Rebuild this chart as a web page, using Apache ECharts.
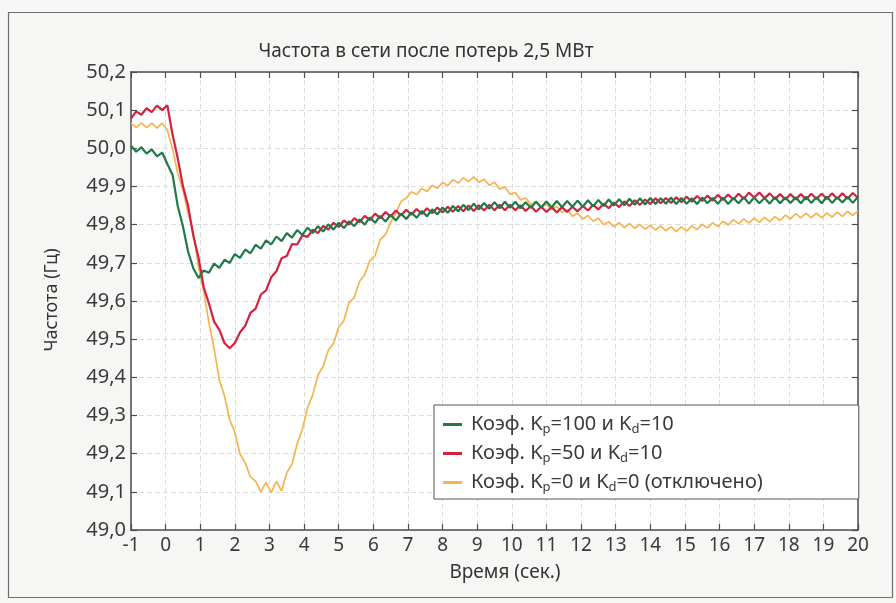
<!DOCTYPE html>
<html>
<head>
<meta charset="utf-8">
<script src="https://cdn.jsdelivr.net/npm/echarts@6/dist/echarts.min.js"></script>
<style>html,body{margin:0;padding:0;background:#f6f6f4;}#c{width:896px;height:603px;}</style>
</head>
<body>
<div id="c"></div>
<script>
// Sampling grid of the recorded curves (seconds)
const tStart = -1, tStep = 0.15;

// Kp=100, Kd=10 (green)
const greenF = [
50.007,49.991,50.003,49.986,49.997,49.979,49.989,49.959,49.931,49.849,
49.796,49.729,49.686,49.660,49.680,49.674,49.698,49.687,49.708,49.700,
49.723,49.713,49.735,49.725,49.747,49.737,49.759,49.748,49.769,49.757,
49.778,49.766,49.786,49.773,49.792,49.778,49.796,49.782,49.801,49.787,
49.805,49.791,49.809,49.796,49.814,49.800,49.819,49.805,49.823,49.808,
49.826,49.811,49.829,49.815,49.832,49.818,49.836,49.822,49.840,49.827,
49.845,49.831,49.849,49.835,49.852,49.838,49.855,49.840,49.857,49.842,
49.859,49.843,49.860,49.844,49.860,49.843,49.859,49.844,49.860,49.845,
49.861,49.845,49.862,49.846,49.862,49.847,49.863,49.847,49.864,49.848,
49.865,49.849,49.866,49.850,49.867,49.851,49.868,49.852,49.869,49.853,
49.870,49.854,49.869,49.855,49.871,49.854,49.870,49.855,49.869,49.854,
49.871,49.856,49.870,49.855,49.871,49.854,49.870,49.856,49.872,49.855,
49.871,49.856,49.870,49.855,49.872,49.856,49.871,49.857,49.872,49.856,
49.873,49.857,49.872,49.856,49.873,49.857,49.872,49.858,49.873,49.857,
49.873];

// Kp=50, Kd=10 (red)
const redF = [
50.078,50.097,50.088,50.105,50.095,50.112,50.100,50.113,50.036,49.974,
49.901,49.849,49.771,49.714,49.636,49.594,49.546,49.525,49.490,49.476,
49.490,49.518,49.535,49.569,49.580,49.617,49.628,49.662,49.678,49.712,
49.718,49.749,49.748,49.772,49.768,49.787,49.778,49.797,49.787,49.805,
49.794,49.811,49.800,49.817,49.806,49.823,49.812,49.829,49.817,49.833,
49.821,49.837,49.824,49.839,49.826,49.841,49.828,49.843,49.830,49.845,
49.832,49.847,49.834,49.849,49.835,49.850,49.836,49.851,49.837,49.852,
49.838,49.852,49.838,49.852,49.838,49.851,49.836,49.849,49.834,49.847,
49.833,49.846,49.832,49.846,49.833,49.847,49.835,49.849,49.837,49.852,
49.840,49.855,49.843,49.858,49.846,49.861,49.849,49.864,49.852,49.866,
49.854,49.869,49.856,49.870,49.857,49.872,49.859,49.873,49.860,49.875,
49.862,49.876,49.863,49.878,49.865,49.879,49.866,49.881,49.868,49.884,
49.871,49.884,49.869,49.882,49.867,49.880,49.866,49.880,49.866,49.880,
49.866,49.881,49.867,49.881,49.867,49.882,49.868,49.882,49.868,49.883,
49.870];

// Kp=0, Kd=0 (off, yellow)
const yellowF = [
50.066,50.054,50.067,50.054,50.066,50.053,50.066,50.048,49.998,49.934,
49.891,49.829,49.781,49.689,49.626,49.544,49.476,49.394,49.351,49.289,
49.256,49.199,49.176,49.139,49.128,49.100,49.125,49.098,49.128,49.102,
49.150,49.172,49.226,49.264,49.321,49.354,49.406,49.429,49.471,49.489,
49.531,49.549,49.596,49.609,49.651,49.669,49.706,49.719,49.761,49.774,
49.806,49.830,49.861,49.869,49.886,49.879,49.895,49.887,49.903,49.895,
49.911,49.902,49.918,49.909,49.923,49.913,49.925,49.911,49.919,49.903,
49.911,49.893,49.899,49.880,49.884,49.865,49.870,49.853,49.861,49.845,
49.854,49.839,49.848,49.832,49.839,49.822,49.830,49.815,49.824,49.809,
49.817,49.800,49.808,49.794,49.805,49.792,49.803,49.790,49.801,49.788,
49.799,49.786,49.797,49.784,49.795,49.782,49.794,49.783,49.797,49.787,
49.801,49.791,49.805,49.795,49.809,49.799,49.813,49.802,49.815,49.804,
49.817,49.806,49.819,49.808,49.821,49.811,49.825,49.815,49.829,49.818,
49.830,49.818,49.830,49.818,49.831,49.820,49.833,49.822,49.835,49.824,
49.836];

const seriesNames = ['Kp=100 Kd=10', 'Kp=50 Kd=10', 'Kp=0 Kd=0'];
const legendRich = {
  'Kp=100 Kd=10': '{a|Коэф. K}{s|p}{a|=100 и K}{s|d}{a|=10}',
  'Kp=50 Kd=10': '{a|Коэф. K}{s|p}{a|=50 и K}{s|d}{a|=10}',
  'Kp=0 Kd=0': '{a|Коэф. K}{s|p}{a|=0 и K}{s|d}{a|=0 (отключено)}'
};
const titleText = 'Частота в сети после потерь 2,5 МВт';
const yName = 'Частота (Гц)';
const xName = 'Время (сек.)';

function pairs(arr) { return arr.map((v, i) => [+(tStart + i * tStep).toFixed(2), v]); }

const FONT = 'Noto Sans';
const chart = echarts.init(document.getElementById('c'), null, {renderer: 'canvas'});
const axisCol = '#4a4f4c';
const textCol = '#3a3a3a';

chart.setOption({
  backgroundColor: '#f6f6f4',
  animation: false,
  grid: {left: 131, right: 38, top: 72, bottom: 73, show: true, backgroundColor: '#ffffff', borderWidth: 0},
  xAxis: [{
    type: 'value', min: -1, max: 20, interval: 1, position: 'bottom',
    axisLine: {show: true, onZero: false, lineStyle: {color: axisCol, width: 1.5}},
    axisTick: {show: true, inside: true, length: 6, lineStyle: {color: axisCol, width: 1.2}},
    axisLabel: {color: textCol, fontSize: 19, fontFamily: FONT, margin: 6},
    splitLine: {show: true, lineStyle: {color: '#dcdcdc', width: 1, type: [5, 3]}}
  }, {
    type: 'value', min: -1, max: 20, interval: 1, position: 'top',
    axisLine: {show: true, onZero: false, lineStyle: {color: axisCol, width: 1.5}},
    axisTick: {show: true, inside: true, length: 6, lineStyle: {color: axisCol, width: 1.2}},
    axisLabel: {show: false}, splitLine: {show: false}
  }],
  yAxis: [{
    type: 'value', min: 49.0, max: 50.2, interval: 0.1, position: 'left',
    axisLine: {show: true, onZero: false, lineStyle: {color: axisCol, width: 1.5}},
    axisTick: {show: true, inside: true, length: 6, lineStyle: {color: axisCol, width: 1.2}},
    axisLabel: {color: textCol, fontSize: 20, fontFamily: FONT, margin: 5,
      formatter: v => v.toFixed(1).replace('.', ',')},
    splitLine: {show: true, lineStyle: {color: '#dcdcdc', width: 1, type: [5, 3]}}
  }, {
    type: 'value', min: 49.0, max: 50.2, interval: 0.1, position: 'right',
    axisLine: {show: true, onZero: false, lineStyle: {color: axisCol, width: 1.5}},
    axisTick: {show: true, inside: true, length: 6, lineStyle: {color: axisCol, width: 1.2}},
    axisLabel: {show: false}, splitLine: {show: false}
  }],
  legend: {
    data: seriesNames,
    orient: 'vertical', left: 434, top: 405,
    backgroundColor: '#ffffff', borderColor: '#555', borderWidth: 1,
    padding: [8, 96, 5, 9], itemGap: 6,
    icon: 'rect', itemWidth: 19, itemHeight: 3,
    formatter: n => legendRich[n],
    textStyle: {
      color: textCol, fontFamily: FONT, fontSize: 20, padding: [0, 0, 0, 4],
      rich: {
        a: {fontSize: 20, color: textCol, fontFamily: FONT, lineHeight: 23},
        s: {fontSize: 13, color: textCol, fontFamily: FONT, lineHeight: 23, verticalAlign: 'bottom', padding: [10, 0, 0, 0]}
      }
    }
  },
  graphic: [
    {type: 'rect', silent: true, z: -1, shape: {x: 8.5, y: 12.5, width: 884, height: 585},
      style: {fill: 'none', stroke: '#6d6d6d', lineWidth: 1.2}},
    {type: 'text', x: 426, y: 52, style: {text: titleText, fontSize: 19, fontFamily: FONT, fill: '#333', align: 'center', verticalAlign: 'middle'}},
    {type: 'text', x: 505, y: 573, style: {text: xName, fontSize: 19, fontFamily: FONT, fill: '#333', align: 'center', verticalAlign: 'middle'}},
    {type: 'text', x: 52, y: 300, rotation: Math.PI / 2, style: {text: yName, fontSize: 18, fontFamily: FONT, fill: '#333', align: 'center', verticalAlign: 'middle'}}
  ],
  series: [
    {name: seriesNames[2], type: 'line', data: pairs(yellowF), showSymbol: false, symbol: 'none', z: 2,
      lineStyle: {color: '#f5b450', width: 1.7}, itemStyle: {color: '#f5b450'}},
    {name: seriesNames[1], type: 'line', data: pairs(redF), showSymbol: false, symbol: 'none', z: 3,
      lineStyle: {color: '#d3223f', width: 2.2}, itemStyle: {color: '#d3223f'}},
    {name: seriesNames[0], type: 'line', data: pairs(greenF), showSymbol: false, symbol: 'none', z: 4,
      lineStyle: {color: '#1f7a47', width: 2.2}, itemStyle: {color: '#1f7a47'}}
  ]
});
</script>
</body>
</html>
